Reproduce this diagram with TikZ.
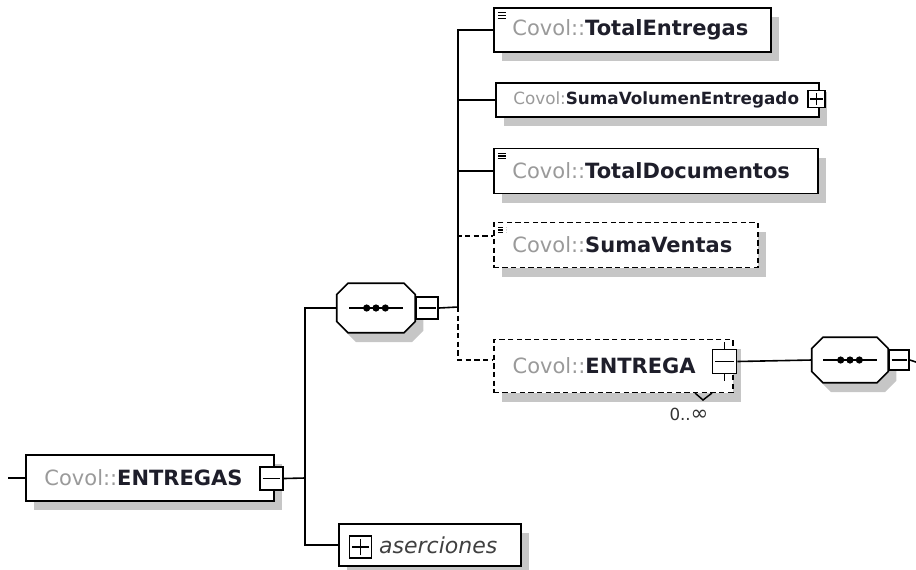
\documentclass[tikz,border=0pt]{standalone}
\usepackage{fontspec}
\setmainfont{DejaVu Sans}
\usepackage{tikz}
\usetikzlibrary{positioning}
\usetikzlibrary{shadows}
\definecolor{nsgray}{HTML}{9A9A9A}
\definecolor{shgray}{HTML}{C6C6C6}
\definecolor{namecol}{HTML}{1E1E2A}
\newcommand{\cvl}{\textcolor{nsgray}{Covol::}}
\newcommand{\cvs}{\textcolor{nsgray}{Covol:}}
\newcommand{\octpath}[1]{([xshift=8.5pt]#1.north west) -- ([xshift=-8.5pt]#1.north east) -- ([yshift=-8.5pt]#1.north east)
  -- ([yshift=8.5pt]#1.south east) -- ([xshift=-8.5pt]#1.south east) -- ([xshift=8.5pt]#1.south west)
  -- ([yshift=8.5pt]#1.south west) -- ([yshift=-8.5pt]#1.north west) -- cycle}
\newcommand{\octo}[1]{%
  \fill[shgray,transform canvas={shift={(6pt,-7pt)}}] \octpath{#1};
  \filldraw[fill=white,line width=1.2pt] \octpath{#1};
  \draw[line width=1.1pt] ([xshift=-20pt]#1.center) -- ([xshift=20pt]#1.center);
  \foreach \d in {-7,0,7} \fill[black] ([xshift=\d pt]#1.center) circle (2.7pt);}
\tikzset{shd/.style={drop shadow={shadow xshift=6pt,shadow yshift=-7pt,fill=shgray,opacity=1}}}
\tikzset{elem/.style={draw,line width=1.2pt,fill=white,shd,anchor=west,inner xsep=14pt,inner ysep=0pt,align=left,text=namecol,font=\fontsize{15.75}{18}\selectfont}}
\tikzset{opt/.style={dash pattern=on 4pt off 2.5pt}}
\tikzset{lst/.style={path picture={\foreach \k in {0,1,2}
      \draw[line width=0.9pt,black] ([xshift=3pt,yshift=-3.5pt-\k*2.1pt]path picture bounding box.north west) -- ++(6.5pt,0pt);}}}
\tikzset{mbox/.style={draw,fill=white,line width=1.2pt,minimum size=#1,inner sep=0pt,
    append after command={([xshift=2.5pt]\tikzlastnode.west) edge[line width=1.4pt] ([xshift=-2.5pt]\tikzlastnode.east)}}}
\tikzset{pbox/.style={mbox=#1,
    append after command={([yshift=2.5pt]\tikzlastnode.south) edge[line width=1.4pt] ([yshift=-2.5pt]\tikzlastnode.north)}}}
\tikzset{seq/.style={rectangle,inner sep=0pt}}
\tikzset{conn/.style={line width=1.2pt}}

\begin{document}
\begin{tikzpicture}[x=0.75pt,y=-0.75pt]
  \useasboundingbox (0,0) rectangle (916,569);
  \coordinate (in) at (8,478);
  \coordinate (j1) at (305,478);
  \coordinate (tr) at (458,307);
  \coordinate (out) at (916,362);

  \node[elem,minimum width=186pt,minimum height=34.5pt,text width=158pt] (ents) at (25,478) {\cvl\textbf{ENTREGAS}};
  \node[mbox=17.25pt] (entsm) at (271.5,478.5) {};
  \node[elem,minimum width=136.5pt,minimum height=31.5pt,text width=122pt,inner xsep=7pt] (aser) at (338,545) {\hspace*{23pt}\textcolor{black!75}{\fontsize{16.5}{18}\selectfont\itshape aserciones}};
  \node[pbox=16.5pt] (aserp) at (360.5,547) {};

  \node[seq,minimum width=58.5pt,minimum height=36.75pt] (seqa) at (376,308) {};
  \octo{seqa}
  \node[mbox=16.5pt,right=0pt of seqa] (seqam) {};

  \node[elem,lst,minimum width=207.75pt,minimum height=33pt,text width=179.75pt] (tent) at (493,30) {\cvl\textbf{TotalEntregas}};
  \node[elem,minimum width=242.25pt,minimum height=25.5pt,text width=216pt,inner xsep=13pt,font=\fontsize{12.6}{15}\selectfont] (svol) at (495,100) {\cvs\textbf{SumaVolumenEntregado}};
  \node[pbox=13pt] (svolp) at (816.5,99) {};
  \node[elem,lst,minimum width=243pt,minimum height=33.75pt,text width=215pt] (tdoc) at (493,171) {\cvl\textbf{TotalDocumentos}};
  \node[elem,lst,opt,minimum width=198pt,minimum height=33.75pt,text width=170pt] (svtas) at (493,245) {\cvl\textbf{SumaVentas}};
  \node[elem,opt,minimum width=179.25pt,minimum height=39.75pt,text width=151pt] (entr) at (493,366) {\cvl\textbf{ENTREGA}};
  \node[mbox=18pt] (entrm) at (724.5,361.5) {};
  \node[font=\fontsize{12.5}{14}\selectfont,text=black!80] (card) at (689,414) {0..{\fontsize{16}{16}\selectfont∞}};

  \node[seq,minimum width=57pt,minimum height=33.75pt] (seqb) at (850,360) {};
  \octo{seqb}
  \node[mbox=15pt,right=0pt of seqb] (seqbm) {};

  \draw[conn] (in) -- (ents.west);
  \draw[conn] (entsm.east) -- (j1) |- (seqa.west);
  \draw[conn] (j1) |- (aser.west);
  \draw[conn] (seqam.east) -- (tr) |- (tent.west);
  \draw[conn] (tr) |- (svol.west);
  \draw[conn] (tr) |- (tdoc.west);
  \draw[conn,opt] (tr) |- ([yshift=6.75pt]svtas.west);
  \draw[conn,opt] (tr) |- ([yshift=4.5pt]entr.west);
  \draw[conn] (entrm.north) -- ++(0,-7);
  \draw[conn] (entrm.south) -- ++(0,7);
  \draw[conn] (entrm.east) -- (seqb.west);
  \draw[conn] (seqbm.east) -- (out);
  \draw[line width=1.1pt] (695,393) -- (703,400) -- (712,393);
\end{tikzpicture}
\end{document}
